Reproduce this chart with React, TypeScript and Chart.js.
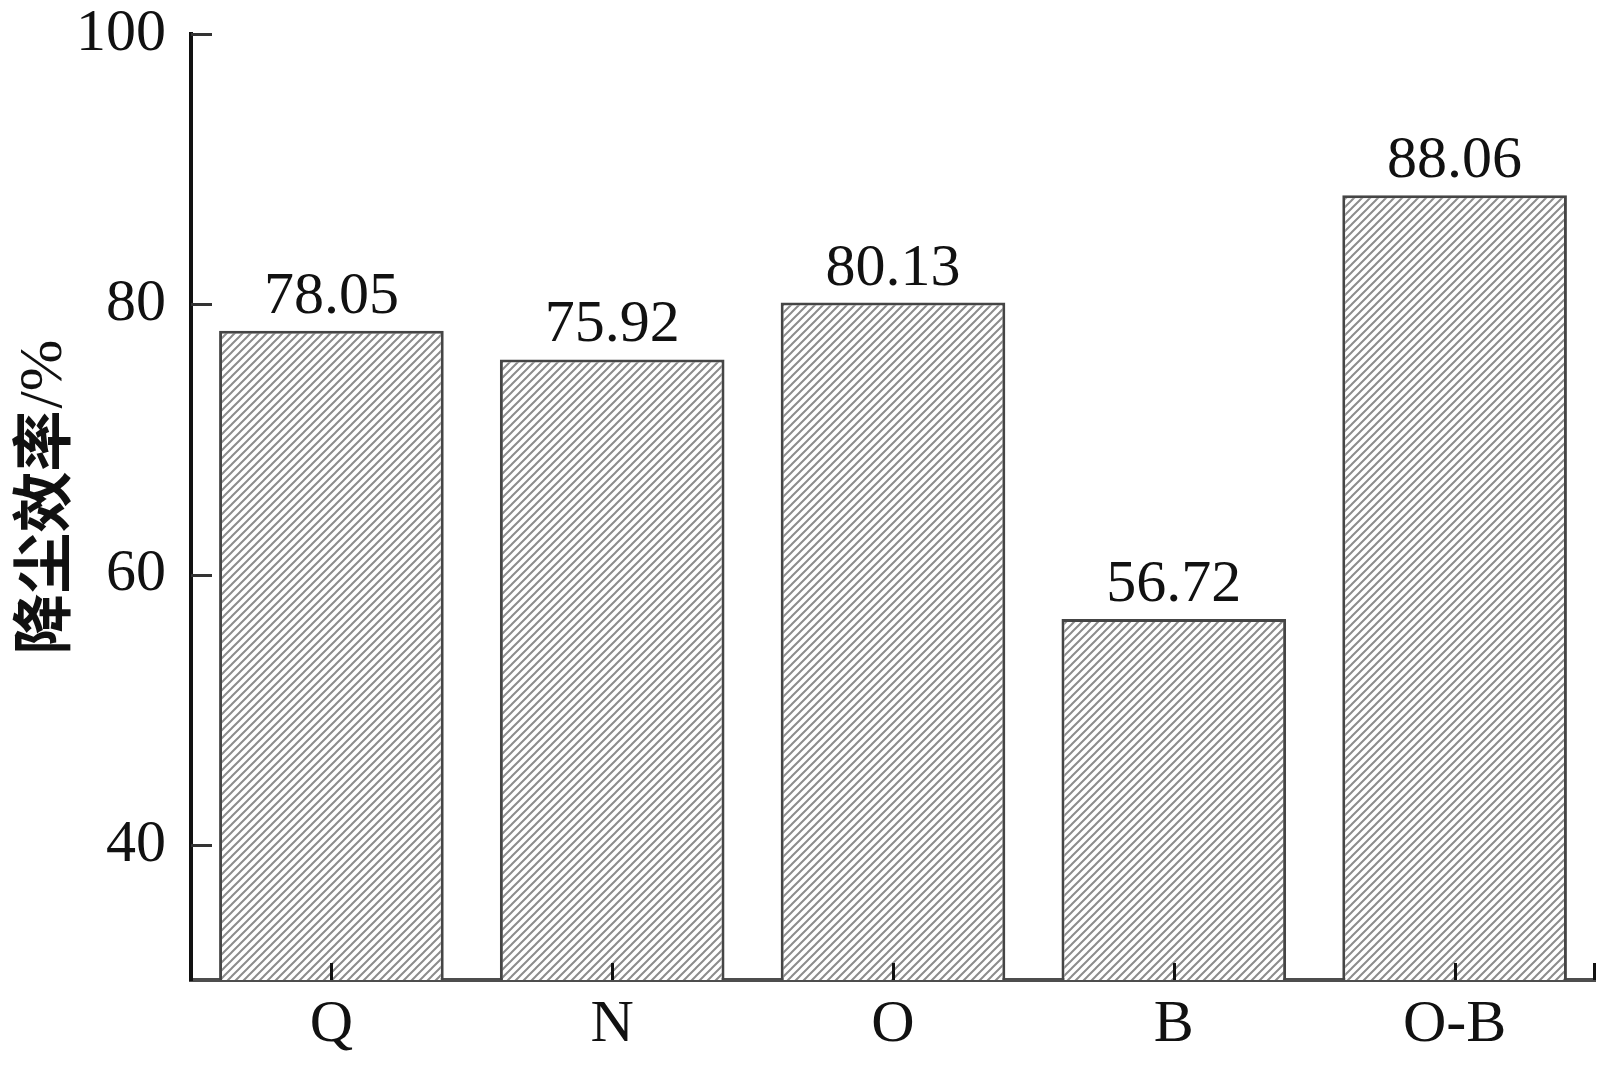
import React, { useEffect, useRef } from "react";
import { Chart, registerables } from "chart.js";

Chart.register(...registerables);

const categories = ["Q", "N", "O", "B", "O-B"];
const efficiency = [78.05, 75.92, 80.13, 56.72, 88.06];
const valueLabels = ["78.05", "75.92", "80.13", "56.72", "88.06"];
const yTicks = [40, 60, 80, 100];
const yMin = 30;
const yMax = 100;
const yTitleCn = "降尘效率";
const yTitleUnit = "/%";

function makeHatch(): CanvasPattern | string {
  const size = 8;
  const c = document.createElement("canvas");
  c.width = size;
  c.height = size;
  const g = c.getContext("2d");
  if (!g) return "#ccc";
  g.fillStyle = "#ffffff";
  g.fillRect(0, 0, size, size);
  g.strokeStyle = "#8c8c8c";
  g.lineWidth = 2;
  g.beginPath();
  g.moveTo(-1, size + 1);
  g.lineTo(size + 1, -1);
  g.moveTo(-1, 1);
  g.lineTo(1, -1);
  g.moveTo(size - 1, size + 1);
  g.lineTo(size + 1, size - 1);
  g.stroke();
  const p = g.createPattern(c, "repeat");
  return p || "#ccc";
}

const serif = "'Liberation Serif', 'Times New Roman', serif";

const decorPlugin = {
  id: "decor",
  afterDatasetsDraw(chart: any) {
    const ctx = chart.ctx as CanvasRenderingContext2D;
    const xs = chart.scales.x;
    const ys = chart.scales.y;
    const area = chart.chartArea;
    ctx.save();
    // y ticks (inward)
    ctx.strokeStyle = "#333";
    ctx.lineWidth = 3;
    yTicks.forEach((v) => {
      const y = Math.round(ys.getPixelForValue(v)) + 0.5;
      ctx.beginPath();
      ctx.moveTo(area.left, y);
      ctx.lineTo(area.left + 21, y);
      ctx.stroke();
    });
    // x ticks (inward)
    ctx.strokeStyle = "#111";
    const xt: number[] = categories.map((_, i) => xs.getPixelForValue(i));
    xt.push(area.right - 1);
    xt.forEach((x) => {
      const xx = Math.round(x) + 0.5;
      ctx.beginPath();
      ctx.moveTo(xx, area.bottom);
      ctx.lineTo(xx, area.bottom - 17);
      ctx.stroke();
    });
    // value labels
    const meta = chart.getDatasetMeta(0);
    ctx.fillStyle = "#111";
    ctx.font = `60px ${serif}`;
    ctx.textAlign = "center";
    ctx.textBaseline = "alphabetic";
    meta.data.forEach((bar: any, i: number) => {
      ctx.fillText(valueLabels[i], bar.x, bar.y - 18);
    });
    // y title
    ctx.translate(42, 498);
    ctx.rotate(-Math.PI / 2);
    const cnFont = "bold 61px 'Noto Sans CJK SC', sans-serif";
    const unitFont = `62px ${serif}`;
    ctx.font = cnFont;
    const w1 = ctx.measureText(yTitleCn).width;
    ctx.font = unitFont;
    const w2 = ctx.measureText(yTitleUnit).width;
    const start = -(w1 + w2) / 2;
    ctx.textAlign = "left";
    ctx.textBaseline = "middle";
    ctx.font = cnFont;
    ctx.fillText(yTitleCn, start, 0);
    ctx.font = unitFont;
    ctx.fillText(yTitleUnit, start + w1 + 2, 3);
    ctx.restore();
  },
};

export default function App() {
  const ref = useRef<HTMLCanvasElement | null>(null);
  useEffect(() => {
    if (!ref.current) return;
    const hatch = makeHatch();
    const chart = new Chart(ref.current, {
      type: "bar",
      data: {
        labels: categories,
        datasets: [
          {
            data: efficiency,
            backgroundColor: hatch as any,
            borderColor: "#454545",
            borderWidth: 3,
            borderSkipped: "start",
            categoryPercentage: 0.8,
            barPercentage: 1.0,
          },
        ],
      },
      options: {
        animation: false,
        responsive: false,
        maintainAspectRatio: false,
        layout: { padding: { left: 0, right: 22, top: 34, bottom: 0 } },
        plugins: {
          legend: { display: false },
          tooltip: { enabled: false },
          title: { display: false },
        },
        scales: {
          x: {
            type: "category",
            offset: true,
            grid: { display: false, drawTicks: false },
            border: { display: true, color: "#4d4d4d", width: 4 },
            ticks: {
              color: "#111",
              font: { family: serif, size: 60 },
              padding: 9,
              maxRotation: 0,
            },
            afterFit: (s: any) => {
              s.height = 85;
              s.paddingLeft = 0;
              s.paddingRight = 0;
            },
          },
          y: {
            type: "linear",
            min: yMin,
            max: yMax,
            grid: { display: false, drawTicks: false },
            border: { display: true, color: "#111", width: 4 },
            ticks: {
              color: "#111",
              font: { family: serif, size: 60 },
              padding: 25,
            },
            afterBuildTicks: (s: any) => {
              s.ticks = yTicks.map((v) => ({ value: v }));
            },
            afterFit: (s: any) => {
              s.width = 191;
              s.paddingTop = 0;
              s.paddingBottom = 0;
            },
          },
        },
      },
      plugins: [decorPlugin],
    });
    return () => chart.destroy();
  }, []);
  return (
    <div style={{ position: "fixed", left: 0, top: 0, width: 1617, height: 1065, background: "#fff" }}>
      <canvas ref={ref} width={1617} height={1065} style={{ display: "block", width: 1617, height: 1065 }} />
    </div>
  );
}
